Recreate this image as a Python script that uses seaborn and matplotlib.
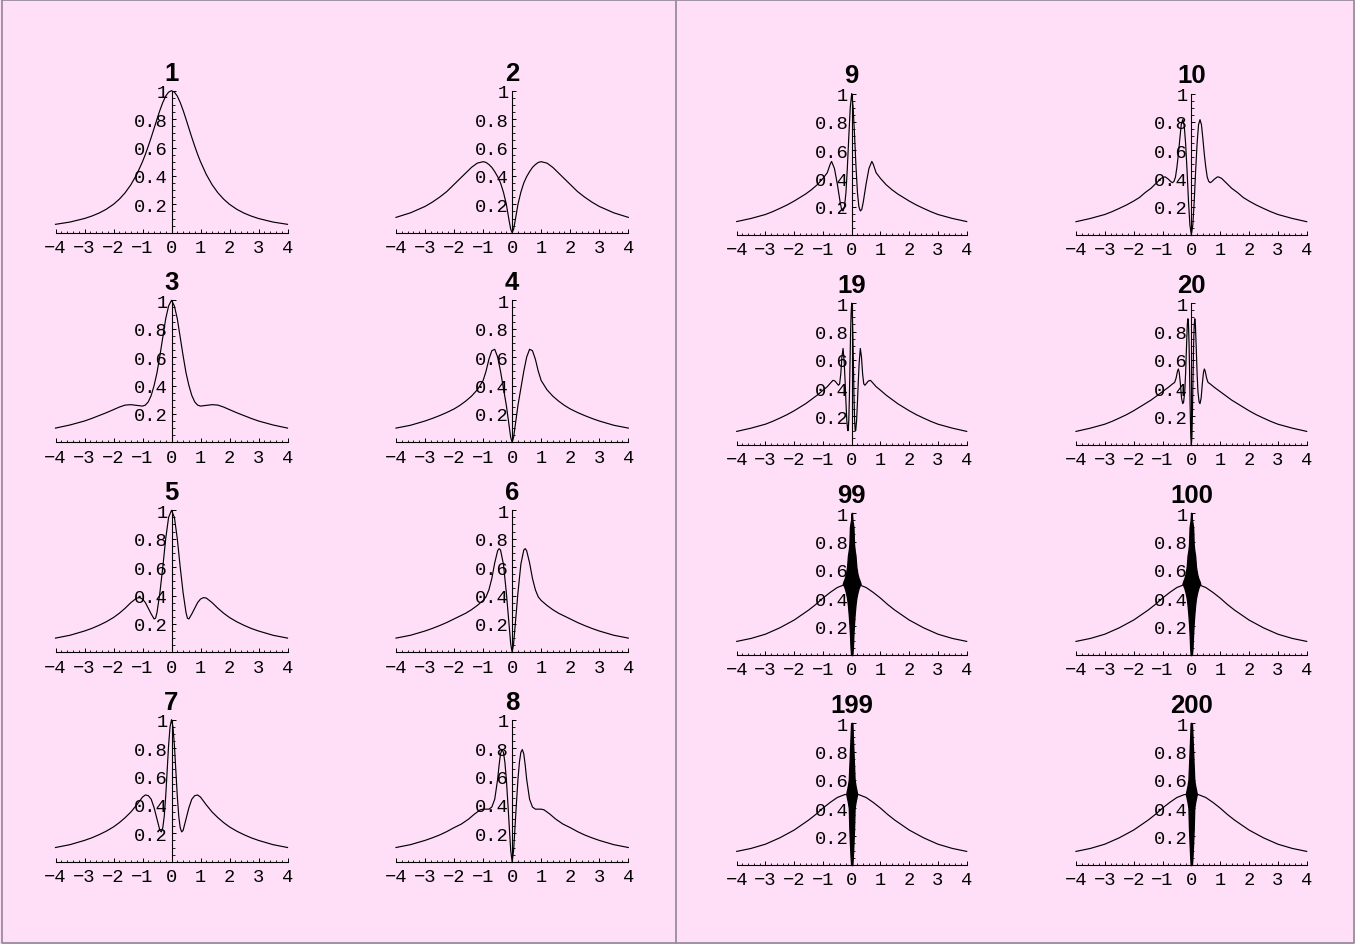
import matplotlib
matplotlib.use("Agg")
import matplotlib.pyplot as plt
import seaborn as sns
from matplotlib.ticker import FixedLocator, FixedFormatter, MultipleLocator
from matplotlib.lines import Line2D

# ---------------- data (right half, x >= 0; curves are symmetric) ----------------
P1_X = [0, 0.1, 0.2, 0.3, 0.4, 0.5, 0.6, 0.7, 0.8, 0.9, 1.0, 1.2, 1.4, 1.6, 1.8, 2.0, 2.25, 2.5, 2.75, 3.0, 3.5, 4.0]
P1_Y = [1.0, 0.99, 0.962, 0.917, 0.862, 0.8, 0.735, 0.671, 0.61, 0.552, 0.5, 0.41, 0.338, 0.281, 0.236, 0.2, 0.165, 0.138, 0.117, 0.1, 0.075, 0.059]

P2_X = [0, 0.05, 0.1, 0.15, 0.2, 0.3, 0.4, 0.5, 0.6, 0.7, 0.8, 0.9, 1.0, 1.2, 1.4, 1.6, 1.8, 2.0, 2.25, 2.5, 2.75, 3.0, 3.5, 4.0]
P2_Y = [0.0, 0.025, 0.08, 0.14, 0.2, 0.285, 0.35, 0.395, 0.43, 0.46, 0.48, 0.495, 0.5, 0.49, 0.46, 0.42, 0.38, 0.34, 0.29, 0.25, 0.215, 0.185, 0.14, 0.108]

P3_X = [0, 0.1, 0.2, 0.3, 0.4, 0.5, 0.6, 0.7, 0.8, 0.9, 1.0, 1.2, 1.4, 1.6, 1.8, 2.0, 2.25, 2.5, 2.75, 3.0, 3.5, 4.0]
P3_Y = [1.0, 0.96, 0.87, 0.74, 0.61, 0.49, 0.4, 0.33, 0.285, 0.262, 0.255, 0.26, 0.265, 0.262, 0.248, 0.23, 0.208, 0.188, 0.168, 0.15, 0.122, 0.1]

P4_X = [0, 0.05, 0.1, 0.2, 0.3, 0.4, 0.5, 0.6, 0.7, 0.8, 0.9, 1.0, 1.2, 1.4, 1.6, 1.8, 2.0, 2.25, 2.5, 2.75, 3.0, 3.5, 4.0]
P4_Y = [0.0, 0.035, 0.11, 0.26, 0.38, 0.5, 0.6, 0.655, 0.645, 0.585, 0.5, 0.435, 0.37, 0.325, 0.29, 0.26, 0.235, 0.21, 0.188, 0.168, 0.15, 0.12, 0.1]

P5_X = [0, 0.1, 0.2, 0.3, 0.4, 0.5, 0.55, 0.6, 0.7, 0.8, 0.9, 1.0, 1.1, 1.2, 1.4, 1.6, 1.8, 2.0, 2.25, 2.5, 2.75, 3.0, 3.5, 4.0]
P5_Y = [1.0, 0.95, 0.8, 0.6, 0.42, 0.28, 0.24, 0.235, 0.27, 0.31, 0.35, 0.375, 0.385, 0.382, 0.35, 0.31, 0.275, 0.245, 0.215, 0.19, 0.168, 0.15, 0.12, 0.1]

P6_X = [0, 0.05, 0.1, 0.15, 0.2, 0.3, 0.4, 0.45, 0.5, 0.6, 0.7, 0.8, 0.9, 1.0, 1.2, 1.4, 1.6, 1.8, 2.0, 2.25, 2.5, 2.75, 3.0, 3.5, 4.0]
P6_Y = [0.0, 0.06, 0.18, 0.3, 0.42, 0.62, 0.72, 0.73, 0.715, 0.63, 0.52, 0.44, 0.39, 0.365, 0.33, 0.3, 0.275, 0.255, 0.235, 0.21, 0.188, 0.168, 0.15, 0.12, 0.1]

P7_X = [0, 0.05, 0.1, 0.15, 0.2, 0.25, 0.3, 0.35, 0.4, 0.5, 0.6, 0.7, 0.8, 0.9, 1.0, 1.2, 1.4, 1.6, 1.8, 2.0, 2.25, 2.5, 2.75, 3.0, 3.5, 4.0]
P7_Y = [1.0, 0.95, 0.82, 0.64, 0.46, 0.32, 0.24, 0.21, 0.22, 0.3, 0.38, 0.44, 0.465, 0.47, 0.455, 0.4, 0.35, 0.31, 0.275, 0.245, 0.215, 0.19, 0.168, 0.15, 0.12, 0.1]

P8_X = [0, 0.05, 0.1, 0.15, 0.2, 0.25, 0.3, 0.35, 0.4, 0.45, 0.5, 0.6, 0.7, 0.8, 0.9, 1.0, 1.1, 1.3, 1.5, 1.75, 2.0, 2.25, 2.5, 2.75, 3.0, 3.5, 4.0]
P8_Y = [0.0, 0.08, 0.25, 0.42, 0.58, 0.7, 0.77, 0.79, 0.76, 0.68, 0.58, 0.44, 0.385, 0.37, 0.37, 0.37, 0.365, 0.335, 0.3, 0.265, 0.24, 0.212, 0.188, 0.168, 0.15, 0.12, 0.1]

P9_X = [0, 0.05, 0.1, 0.15, 0.2, 0.25, 0.3, 0.35, 0.4, 0.5, 0.6, 0.7, 0.75, 0.85, 1.0, 1.2, 1.4, 1.6, 1.8, 2.0, 2.25, 2.5, 2.75, 3.0, 3.5, 4.0]
P9_Y = [1.0, 0.9, 0.7, 0.48, 0.3, 0.2, 0.17, 0.18, 0.23, 0.36, 0.47, 0.52, 0.5, 0.44, 0.4, 0.355, 0.32, 0.29, 0.265, 0.24, 0.212, 0.188, 0.165, 0.145, 0.117, 0.095]

P10_X = [0, 0.05, 0.1, 0.15, 0.2, 0.25, 0.3, 0.35, 0.4, 0.45, 0.5, 0.55, 0.6, 0.65, 0.7, 0.8, 0.9, 0.95, 1.05, 1.2, 1.4, 1.6, 1.8, 2.0, 2.25, 2.5, 2.75, 3.0, 3.5, 4.0]
P10_Y = [0.0, 0.07, 0.24, 0.46, 0.65, 0.78, 0.815, 0.78, 0.68, 0.57, 0.48, 0.41, 0.38, 0.37, 0.375, 0.395, 0.41, 0.41, 0.4, 0.37, 0.33, 0.3, 0.265, 0.24, 0.212, 0.188, 0.165, 0.145, 0.117, 0.094]

P19_X = [0, 0.02, 0.04, 0.06, 0.08, 0.1, 0.12, 0.14, 0.17, 0.2, 0.23, 0.26, 0.3, 0.34, 0.38, 0.42, 0.46, 0.5, 0.58, 0.65, 0.72, 0.85, 1.0, 1.2, 1.4, 1.6, 1.8, 2.0, 2.25, 2.5, 2.75, 3.0, 3.5, 4.0]
P19_Y = [1.0, 0.93, 0.78, 0.56, 0.34, 0.18, 0.1, 0.1, 0.17, 0.3, 0.45, 0.58, 0.68, 0.62, 0.5, 0.43, 0.42, 0.43, 0.45, 0.455, 0.44, 0.41, 0.385, 0.35, 0.32, 0.29, 0.265, 0.24, 0.212, 0.188, 0.165, 0.145, 0.117, 0.094]

P20_X = [0, 0.02, 0.04, 0.06, 0.08, 0.1, 0.12, 0.14, 0.17, 0.2, 0.23, 0.27, 0.3, 0.34, 0.38, 0.42, 0.45, 0.48, 0.53, 0.58, 0.65, 0.8, 1.0, 1.2, 1.4, 1.6, 1.8, 2.0, 2.25, 2.5, 2.75, 3.0, 3.5, 4.0]
P20_Y = [0.0, 0.06, 0.25, 0.5, 0.72, 0.85, 0.89, 0.85, 0.68, 0.5, 0.37, 0.3, 0.29, 0.33, 0.43, 0.51, 0.535, 0.52, 0.47, 0.44, 0.43, 0.405, 0.375, 0.345, 0.315, 0.29, 0.265, 0.24, 0.212, 0.188, 0.165, 0.145, 0.117, 0.094]

# large-n panels: smooth mean curve plus the envelope of the dense oscillation
MEAN_X = [0, 0.25, 0.5, 0.75, 1.0, 1.25, 1.5, 1.75, 2.0, 2.5, 3.0, 3.5, 4.0]
MEAN_Y = [0.5, 0.495, 0.475, 0.44, 0.4, 0.355, 0.315, 0.28, 0.245, 0.19, 0.145, 0.115, 0.094]

OSC100_X = [0, 0.02, 0.04, 0.06, 0.08, 0.10, 0.13, 0.16, 0.20, 0.24, 0.28, 0.31]
OSC100_UP = [1.0, 0.95, 0.93, 0.9, 0.78, 0.74, 0.7, 0.62, 0.57, 0.54, 0.52, 0.5]
OSC100_LO = [0.0, 0.0, 0.05, 0.15, 0.22, 0.28, 0.35, 0.4, 0.44, 0.47, 0.49, 0.5]

OSC200_X = [0, 0.02, 0.04, 0.06, 0.08, 0.10, 0.13, 0.16, 0.19]
OSC200_UP = [1.0, 1.0, 0.9, 0.8, 0.7, 0.6, 0.56, 0.53, 0.5]
OSC200_LO = [0.0, 0.0, 0.06, 0.15, 0.25, 0.4, 0.44, 0.47, 0.5]

TITLES = ["1", "2", "3", "4", "5", "6", "7", "8",
          "9", "10", "19", "20", "99", "100", "199", "200"]
X_TICKS = [-4, -3, -2, -1, 0, 1, 2, 3, 4]
X_TICK_LABELS = ["\u22124", "\u22123", "\u22122", "\u22121", "0", "1", "2", "3", "4"]
Y_TICKS = [0.2, 0.4, 0.6, 0.8, 1.0]
Y_TICK_LABELS = ["0.2", "0.4", "0.6", "0.8", "1"]

# ---------------- styling ----------------
BG = "#FFDFF8"
BORDER = "#9A8C9A"
W, H = 1355, 945

plt.rcParams["font.family"] = ["Liberation Mono", "DejaVu Sans Mono"]
plt.rcParams["axes.unicode_minus"] = True

fig = plt.figure(figsize=(W / 100, H / 100), dpi=100, facecolor=BG)


def mirror(xs, ys):
    fx = [-x for x in reversed(xs[1:])] + list(xs)
    fy = list(reversed(ys[1:])) + list(ys)
    return fx, fy


# column pixel extents (x=-4 .. x=4)
COLS = [(55.5, 287.5), (396.0, 628.3), (736.7, 966.7), (1076.0, 1306.7)]
# rows: pixel row of y=0 and pixels per unit y
ROWS_LEFT = [233.7, 443.3, 653.3, 862.7]
ROWS_RIGHT = [236.0, 445.7, 655.7, 865.7]
UNIT_LEFT = 142.0
UNIT_RIGHT = 141.5
YTOP = 1.01

curves = {
    "1": (P1_X, P1_Y), "2": (P2_X, P2_Y), "3": (P3_X, P3_Y), "4": (P4_X, P4_Y),
    "5": (P5_X, P5_Y), "6": (P6_X, P6_Y), "7": (P7_X, P7_Y), "8": (P8_X, P8_Y),
    "9": (P9_X, P9_Y), "10": (P10_X, P10_Y), "19": (P19_X, P19_Y), "20": (P20_X, P20_Y),
}
osc = {
    "99": (OSC100_X, OSC100_UP, OSC100_LO), "100": (OSC100_X, OSC100_UP, OSC100_LO),
    "199": (OSC200_X, OSC200_UP, OSC200_LO), "200": (OSC200_X, OSC200_UP, OSC200_LO),
}

for i, title in enumerate(TITLES):
    if i < 8:
        col = i % 2
        row = i // 2
        yzero = ROWS_LEFT[row]
        unit = UNIT_LEFT
    else:
        j = i - 8
        col = 2 + j % 2
        row = j // 2
        yzero = ROWS_RIGHT[row]
        unit = UNIT_RIGHT
    x0, x1 = COLS[col]
    hpx = unit * YTOP
    ax = fig.add_axes([x0 / W, 1 - yzero / H, (x1 - x0) / W, hpx / H])
    ax.patch.set_alpha(0)

    if title in curves:
        fx, fy = mirror(*curves[title])
        sns.lineplot(x=fx, y=fy, ax=ax, color="black", linewidth=0.85,
                     estimator=None, sort=False, legend=False)
    else:
        ox, up, lo = osc[title]
        fx, fup = mirror(ox, up)
        _, flo = mirror(ox, lo)
        ax.fill_between(fx, flo, fup, color="black", linewidth=1.0)
        mx, my = mirror(MEAN_X, MEAN_Y)
        sns.lineplot(x=mx, y=my, ax=ax, color="black", linewidth=0.85,
                     estimator=None, sort=False, legend=False)
        ax.plot([0, 0], [0, 1], color="black", linewidth=1.0)
    for ln in ax.lines:
        ln.set_clip_on(False)

    ax.set_xlim(-4, 4)
    ax.set_ylim(0, YTOP)
    ax.set_xlabel("")
    ax.set_ylabel("")
    for s in ["top", "right"]:
        ax.spines[s].set_visible(False)
    ax.spines["left"].set_position(("data", 0))
    ax.spines["left"].set_bounds(0, 1.0)
    for s in ["left", "bottom"]:
        ax.spines[s].set_linewidth(0.8)
        ax.spines[s].set_color("black")
        ax.spines[s].set_zorder(1)

    ax.xaxis.set_major_locator(FixedLocator(X_TICKS))
    ax.xaxis.set_major_formatter(FixedFormatter(X_TICK_LABELS))
    ax.xaxis.set_minor_locator(MultipleLocator(0.2))
    ax.yaxis.set_major_locator(FixedLocator(Y_TICKS))
    ax.yaxis.set_major_formatter(FixedFormatter(Y_TICK_LABELS))
    ax.yaxis.set_minor_locator(MultipleLocator(0.05))
    ax.tick_params(which="major", direction="in", length=3, width=0.7,
                   labelsize=13.5, colors="black")
    ax.tick_params(which="minor", direction="in", length=1.8, width=0.6)
    ax.tick_params(axis="x", which="major", pad=4.5)
    ax.tick_params(axis="y", which="major", pad=2.5)

    ax.annotate(title, xy=(0, 1.0), xycoords="data", xytext=(0, 13),
                textcoords="offset points", ha="center", va="center",
                fontsize=18.5, fontweight="bold", family=["Liberation Sans", "DejaVu Sans"],
                annotation_clip=False)

# frame and divider
def fline(xs, ys):
    fig.add_artist(Line2D([x / W for x in xs], [1 - y / H for y in ys],
                          color=BORDER, linewidth=1.3))

fline([1.5, 1353.5, 1353.5, 1.5, 1.5], [1, 1, 943.5, 943.5, 1])
fline([675.5, 675.5], [1, 943.5])

fig.savefig("out.png", dpi=100, facecolor=BG)
